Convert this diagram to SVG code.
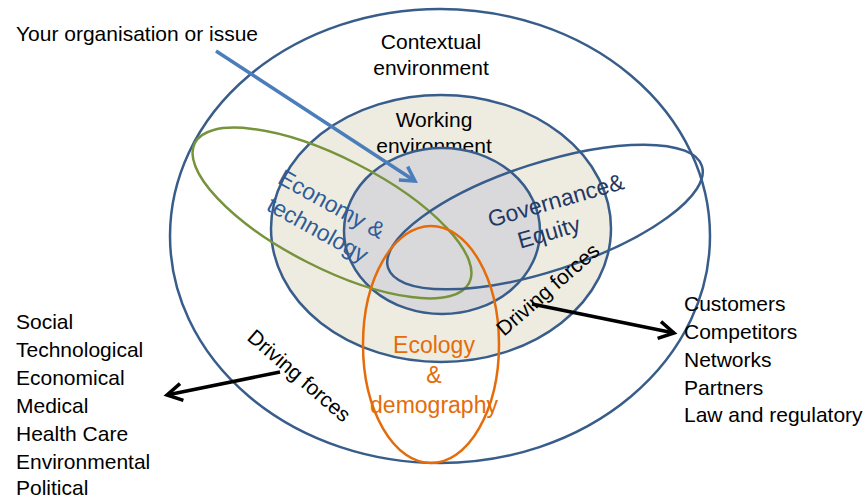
<svg xmlns="http://www.w3.org/2000/svg" width="868" height="499" viewBox="0 0 868 499">
  <style>
    .ring { fill: none; stroke: #385D8A; stroke-width: 2.5; }
    .lbl { font-family: "Liberation Sans", Arial, sans-serif; font-size: 21px; fill: #000; }
    .big { font-family: "Liberation Sans", Arial, sans-serif; font-size: 23px; text-anchor: middle; }
    .mid { text-anchor: middle; }
  </style>
  <defs>
    <marker id="headBlack" markerUnits="userSpaceOnUse" viewBox="-20 -12 24 24" markerWidth="24" markerHeight="24" refX="0" refY="0" orient="auto">
      <path d="M-15,-8.5 L0,0 L-15,8.5" fill="none" stroke="#000" stroke-width="3.5" stroke-linejoin="miter"/>
    </marker>
    <marker id="headBlue" markerUnits="userSpaceOnUse" viewBox="-20 -12 24 24" markerWidth="24" markerHeight="24" refX="0" refY="0" orient="auto">
      <path d="M-14,-8 L0,0 L-14,8" fill="none" stroke="#4A7EBB" stroke-width="3.5" stroke-linejoin="miter"/>
    </marker>
  </defs>

  <rect width="868" height="499" fill="#fff"/>

  <!-- contextual environment -->
  <g id="contextual">
    <ellipse class="ring" cx="440" cy="236" rx="270" ry="227"/>
    <text class="lbl mid" x="431" y="49">Contextual</text>
    <text class="lbl mid" x="431" y="75">environment</text>
  </g>

  <!-- working environment -->
  <g id="working">
    <ellipse cx="441" cy="228.5" rx="170" ry="133.5" fill="#EEECE1" stroke="#385D8A" stroke-width="2.5"/>
    <text class="lbl mid" x="434" y="127">Working</text>
    <text class="lbl mid" x="434" y="153">environment</text>
  </g>

  <!-- organisation core -->
  <g id="core">
    <ellipse cx="442" cy="231" rx="98" ry="83" fill="#D9D9DB" stroke="#385D8A" stroke-width="2.5"/>
  </g>

  <!-- economy & technology -->
  <g id="economy">
    <ellipse cx="332" cy="213" rx="154" ry="55" transform="rotate(27 332 213)" fill="none" stroke="#77933C" stroke-width="2.5"/>
    <g transform="translate(328 211) rotate(29)">
      <text class="big" x="0" y="0" fill="#2F5C98">Economy &amp;</text>
      <text class="big" x="0" y="29" fill="#2F5C98">technology</text>
    </g>
  </g>

  <!-- governance & equity -->
  <g id="governance">
    <ellipse cx="545" cy="217" rx="165" ry="54" transform="rotate(-18 545 217)" class="ring"/>
    <text class="big" transform="translate(558 208) rotate(-16)" fill="#1F3864">Governance&amp;</text>
    <text class="big" transform="translate(551 240) rotate(-16)" fill="#1F3864">Equity</text>
  </g>

  <!-- ecology & demography -->
  <g id="ecology">
    <ellipse cx="431" cy="344.5" rx="68" ry="118.5" fill="none" stroke="#E46C0A" stroke-width="2.5"/>
    <text class="big" x="434" y="353" fill="#E46C0A">Ecology</text>
    <text class="big" x="434" y="383" fill="#E46C0A">&amp;</text>
    <text class="big" x="434" y="413" fill="#E46C0A">demography</text>
  </g>

  <!-- driving forces labels -->
  <g id="driving-inner">
    <text class="lbl" x="504" y="337" transform="rotate(-41 504 337)">Driving forces</text>
  </g>
  <g id="driving-outer">
    <text class="lbl" x="246" y="339" transform="rotate(41 246 339)">Driving forces</text>
  </g>

  <!-- side lists -->
  <g id="your-issue">
    <text class="lbl" x="16" y="41">Your organisation or issue</text>
  </g>
  <g id="macro-list">
    <text class="lbl" x="16" y="329">Social</text>
    <text class="lbl" x="16" y="357">Technological</text>
    <text class="lbl" x="16" y="385">Economical</text>
    <text class="lbl" x="16" y="413">Medical</text>
    <text class="lbl" x="16" y="441">Health Care</text>
    <text class="lbl" x="16" y="469">Environmental</text>
    <text class="lbl" x="16" y="495">Political</text>
  </g>
  <g id="market-list">
    <text class="lbl" x="684" y="311">Customers</text>
    <text class="lbl" x="684" y="339">Competitors</text>
    <text class="lbl" x="684" y="367">Networks</text>
    <text class="lbl" x="684" y="395">Partners</text>
    <text class="lbl" x="684" y="422">Law and regulatory</text>
  </g>

  <!-- connectors -->
  <g id="connectors">
    <line x1="216" y1="51" x2="415" y2="181" stroke="#4A7EBB" stroke-width="3.5" marker-end="url(#headBlue)"/>
    <line x1="532" y1="304" x2="674" y2="333" stroke="#000" stroke-width="3.5" marker-end="url(#headBlack)"/>
    <line x1="280" y1="372" x2="167" y2="395" stroke="#000" stroke-width="3.5" marker-end="url(#headBlack)"/>
  </g>
</svg>
